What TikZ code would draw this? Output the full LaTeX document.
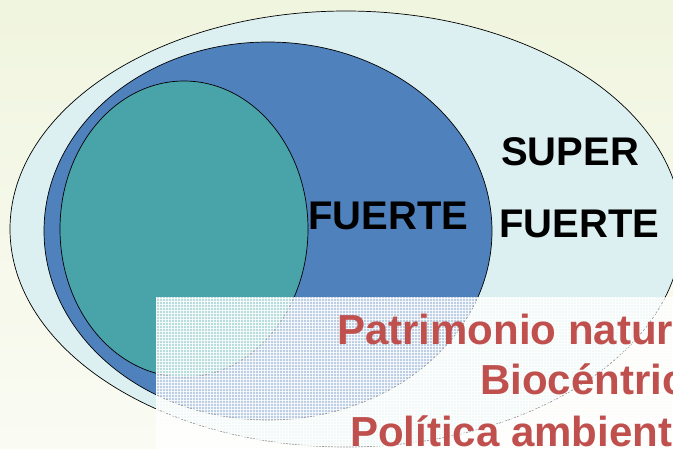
\documentclass[tikz,border=0pt]{standalone}
\usepackage{fontspec}
\setmainfont{Liberation Sans}
\usetikzlibrary{patterns}
\definecolor{bgtop}{HTML}{F0F5DF}
\definecolor{bgbot}{HTML}{FAFBF3}
\definecolor{outerc}{HTML}{DDF0F1}
\definecolor{bluec}{HTML}{4F81BD}
\definecolor{tealc}{HTML}{48A4A9}
\definecolor{redc}{HTML}{C0504D}
\tikzset{
  ring/.style={draw=black, line width=0.7pt},
  lbl/.style={inner sep=0pt, anchor=base west, font=\fontsize{40}{48}\selectfont\bfseries},
  redlbl/.style={lbl, text=redc, font=\fontsize{42}{50}\selectfont\bfseries}
}
\begin{document}
\begin{tikzpicture}[x=1pt,y=-1pt]
\useasboundingbox (0,0) rectangle (673,448);
\shade[top color=bgtop, bottom color=bgbot] (0,0) rectangle (673,448);
\begin{scope}
\clip (0,0) rectangle (673,448);
\fill[outerc] (346,229) ellipse [x radius=336pt, y radius=218pt];
\draw[ring] (346,229) ellipse [x radius=336pt, y radius=218pt];
\fill[bluec] (268,231) ellipse [x radius=224pt, y radius=189pt];
\draw[ring] (268,231) ellipse [x radius=224pt, y radius=189pt];
\fill[tealc] (184,229) ellipse [x radius=124pt, y radius=148pt];
\draw[ring] (184,229) ellipse [x radius=124pt, y radius=148pt];
\fill[white, opacity=0.62] (156,297) rectangle (673,448);
\fill[pattern=grid, pattern color=white, opacity=0.8] (156,297) rectangle (673,448);
\end{scope}
\node[lbl] (fuerte) at (308,229) {FUERTE};
\node[lbl] (super) at (501,165) {SUPER};
\node[lbl] (sfuerte) at (499,237) {FUERTE};
\node[redlbl] (pat) at (337,344) {Patrimonio natural};
\node[redlbl] (bio) at (480,394) {Biocéntrico};
\node[redlbl] (pol) at (350,446) {Política ambiental};
\end{tikzpicture}
\end{document}
